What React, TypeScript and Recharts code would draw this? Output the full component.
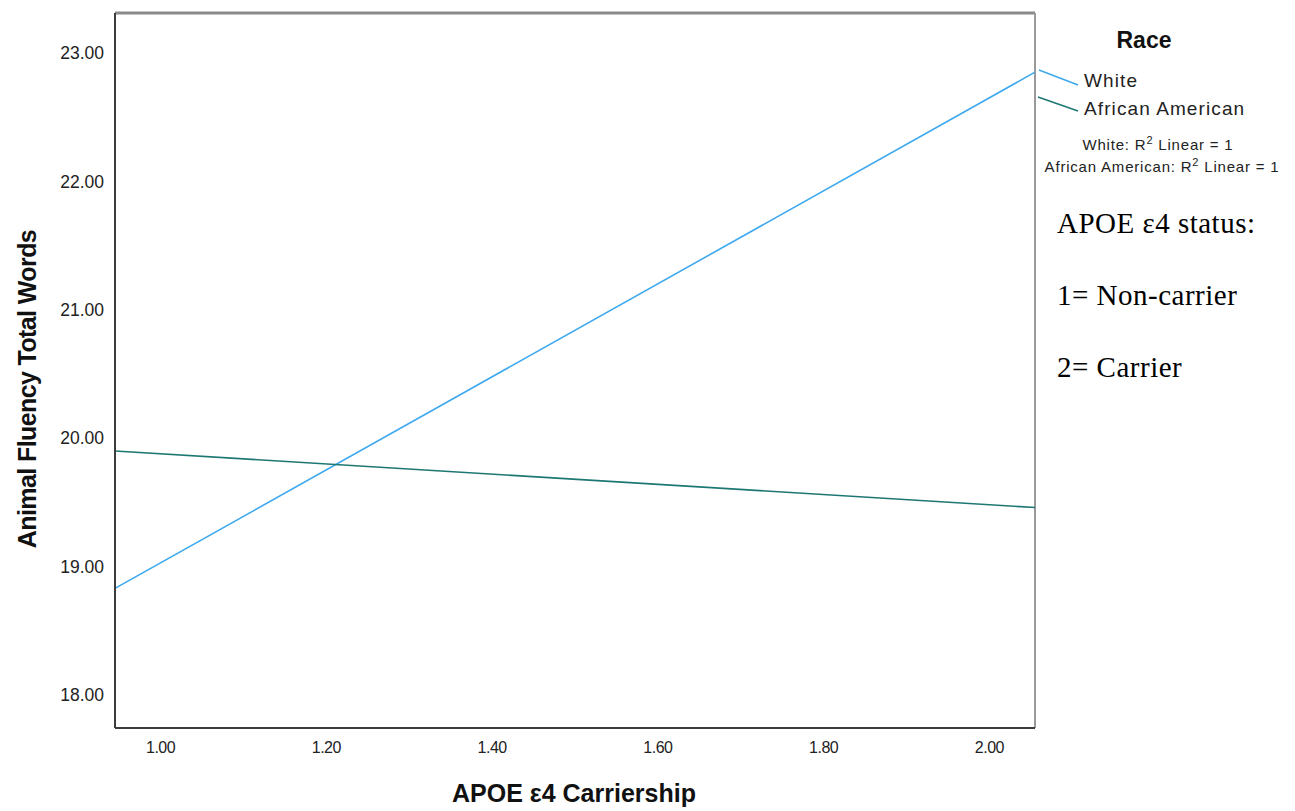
import React from "react";
import { LineChart, Line, XAxis, YAxis, ReferenceLine } from "recharts";

// fit lines run edge to edge of the x range (SPSS style)
const xEnds = [0.945, 2.055];
const white = [18.83, 22.85];
const africanAmerican = [19.9, 19.46];

const xTicks = [1, 1.2, 1.4, 1.6, 1.8, 2];
const yTicks = [18, 19, 20, 21, 22, 23];
const xDomain = [0.945, 2.055];
const yDomain = [17.743, 23.311];

const WHITE_COLOR = "#3fa9ee";
const AA_COLOR = "#1e7872";

const sans = "Arial, 'Liberation Sans', sans-serif";
const serif = "'Times New Roman', 'Liberation Serif', serif";

const App = () => {
  const data = xEnds.map((x, i) => ({
    x,
    white: white[i],
    aa: africanAmerican[i],
  }));

  return (
    <div style={{ position: "absolute", left: 0, top: 0, width: 1295, height: 811, background: "#fff", fontFamily: sans }}>
      <LineChart
        width={1295}
        height={811}
        data={data}
        margin={{ top: 13, right: 260, left: 55, bottom: 53 }}
      >
        <XAxis
          dataKey="x"
          type="number"
          domain={xDomain}
          ticks={xTicks}
          allowDataOverflow
          tickFormatter={(v: number) => v.toFixed(2)}
          tickLine={false}
          tickSize={0}
          tickMargin={14}
          height={30}
          axisLine={{ stroke: "#3c3c3c", strokeWidth: 2 }}
          tick={{ fill: "#222", fontSize: 16, fontFamily: sans, letterSpacing: -0.5 }}
        />
        <YAxis
          type="number"
          domain={yDomain}
          ticks={yTicks}
          allowDataOverflow
          tickFormatter={(v: number) => v.toFixed(2)}
          tickLine={false}
          tickSize={0}
          tickMargin={11}
          width={60}
          axisLine={{ stroke: "#3c3c3c", strokeWidth: 2 }}
          tick={{ fill: "#222", fontSize: 17.5, fontFamily: sans }}
        />
        <ReferenceLine y={yDomain[1]} stroke="#8a8a8a" strokeWidth={3} ifOverflow="visible" />
        <ReferenceLine x={xDomain[1]} stroke="#9a9a9a" strokeWidth={2} ifOverflow="visible" />
        <Line
          dataKey="white"
          stroke={WHITE_COLOR}
          strokeWidth={1.6}
          dot={false}
          isAnimationActive={false}
        />
        <Line
          dataKey="aa"
          stroke={AA_COLOR}
          strokeWidth={1.6}
          dot={false}
          isAnimationActive={false}
        />
      </LineChart>

      <svg width={1295} height={811} style={{ position: "absolute", left: 0, top: 0, pointerEvents: "none" }}>
        {/* axis titles */}
        <text x={574} y={802} textAnchor="middle" fontSize={25} fontWeight="bold" fontFamily={sans} fill="#111">
          APOE ε4 Carriership
        </text>
        <text
          x={0}
          y={0}
          transform="translate(36 389) rotate(-90)"
          textAnchor="middle"
          fontSize={25}
          fontWeight="bold"
          fontFamily={sans}
          fill="#111"
          letterSpacing={-0.6}
        >
          Animal Fluency Total Words
        </text>

        {/* legend */}
        <text x={1144} y={48} textAnchor="middle" fontSize={23} fontWeight="bold" fontFamily={sans} fill="#111">Race</text>
        <line x1={1039} y1={70} x2={1078} y2={85} stroke={WHITE_COLOR} strokeWidth={1.6} />
        <line x1={1038} y1={97} x2={1078} y2={111} stroke={AA_COLOR} strokeWidth={1.6} />
        <text x={1084} y={87} fontSize={19} fontFamily={sans} fill="#222" letterSpacing={1.1}>White</text>
        <text x={1084} y={115} fontSize={19} fontFamily={sans} fill="#222" letterSpacing={1.1}>African American</text>
        <text x={1158} y={150} textAnchor="middle" fontSize={15} fontFamily={sans} fill="#222" letterSpacing={0.8}>
          White: R<tspan dy={-6} fontSize={11}>2</tspan><tspan dy={6}> Linear = 1</tspan>
        </text>
        <text x={1162} y={172} textAnchor="middle" fontSize={15} fontFamily={sans} fill="#222" letterSpacing={0.8}>
          African American: R<tspan dy={-6} fontSize={11}>2</tspan><tspan dy={6}> Linear = 1</tspan>
        </text>

        {/* annotation */}
        <text x={1057} y={233} fontSize={29} fontFamily={serif} fill="#000" letterSpacing={0.5}>APOE ε4 status:</text>
        <text x={1057} y={305} fontSize={29} fontFamily={serif} fill="#000" letterSpacing={0.5}>1= Non-carrier</text>
        <text x={1057} y={377} fontSize={29} fontFamily={serif} fill="#000" letterSpacing={0.5}>2= Carrier</text>
      </svg>
    </div>
  );
};

export default App;
